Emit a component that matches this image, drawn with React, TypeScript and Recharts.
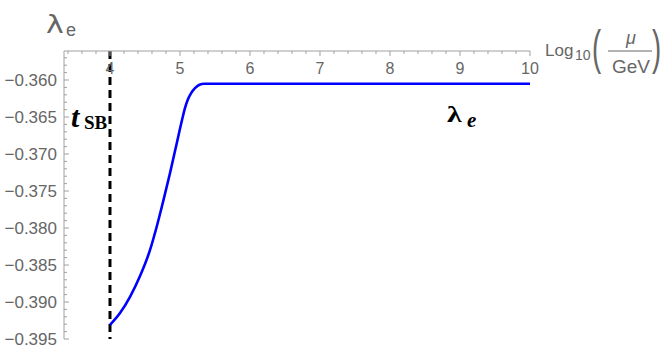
import React from 'react';
import { LineChart, Line, XAxis, YAxis, ReferenceLine } from 'recharts';

// log10(mu/GeV) values and lambda_e
const logMu = [4.0, 4.143, 4.286, 4.429, 4.571, 4.671, 4.757, 4.857, 4.957, 5.029, 5.071, 5.114, 5.157, 5.214, 5.286, 5.343, 10];
const lambdaE = [-0.3931, -0.3915, -0.3893, -0.3865, -0.383, -0.3797, -0.3765, -0.3726, -0.3684, -0.3654, -0.3638, -0.3626, -0.3618, -0.3611, -0.3606, -0.3605, -0.3605];

const xTicks = [3.4, 3.6, 3.8, 4, 4.2, 4.4, 4.6, 4.8, 5, 5.2, 5.4, 5.6, 5.8, 6, 6.2, 6.4, 6.6, 6.8, 7, 7.2, 7.4, 7.6, 7.8, 8, 8.2, 8.4, 8.6, 8.8, 9, 9.2, 9.4, 9.6, 9.8, 10];
const xMajorLabels = ['4', '5', '6', '7', '8', '9', '10'];
const yTicks = [
  -0.395, -0.394, -0.393, -0.392, -0.391, -0.39, -0.389, -0.388, -0.387, -0.386,
  -0.385, -0.384, -0.383, -0.382, -0.381, -0.38, -0.379, -0.378, -0.377, -0.376,
  -0.375, -0.374, -0.373, -0.372, -0.371, -0.37, -0.369, -0.368, -0.367, -0.366,
  -0.365, -0.364, -0.363, -0.362, -0.361, -0.36, -0.359, -0.358, -0.357,
];
const yMajorLabels = ['−0.395', '−0.390', '−0.385', '−0.380', '−0.375', '−0.370', '−0.365', '−0.360'];
const tSB = 4;

const data = logMu.map((x, i) => ({ x, y: lambdaE[i] }));

const GRAY_TEXT = '#666666';
const TICK = '#a0a0a0';
const SANS = 'Liberation Sans, Arial, sans-serif';
const SERIF = 'Liberation Serif, Times New Roman, serif';

const XTick = (props: any) => {
  const { x, y, payload } = props;
  const v = payload.value as number;
  const major = Math.abs(v - Math.round(v)) < 1e-6;
  const label = xMajorLabels.find((l) => Number(l) === Math.round(v));
  return (
    <g>
      <line x1={x} x2={x} y1={y} y2={y + (major ? 5 : 3)} stroke={TICK} strokeWidth={1} />
      {major && label && (
        <text x={x} y={y + 23} textAnchor="middle" fontSize={16} fill={GRAY_TEXT} fontFamily={SANS}>
          {label}
        </text>
      )}
    </g>
  );
};

const YTick = (props: any) => {
  const { x, y, payload } = props;
  const v = payload.value as number;
  const major = Math.abs(v * 200 - Math.round(v * 200)) < 1e-6;
  const label = yMajorLabels.find((l) => Math.abs(-Number(l.replace('−', '')) - v) < 1e-7);
  return (
    <g>
      <line x1={x} x2={x + (major ? 5 : 3)} y1={y} y2={y} stroke={TICK} strokeWidth={1} />
      {major && label && (
        <text x={x - 7} y={y + 6} textAnchor="end" fontSize={17} fill={GRAY_TEXT} fontFamily={SANS}>
          {label}
        </text>
      )}
    </g>
  );
};

const Annotations = () => (
  <g>
    {/* y axis title */}
    <text transform="translate(46,33) scale(1.25,1)" fontSize={24} fill={GRAY_TEXT} fontFamily="DejaVu Sans, sans-serif">
      λ
    </text>
    <text x={66} y={36} fontSize={18} fill={GRAY_TEXT} fontFamily={SANS}>
      e
    </text>
    {/* x axis title */}
    <text x={545} y={56} fontSize={17} fill={GRAY_TEXT} fontFamily={SANS}>
      Log
    </text>
    <text x={575} y={60} fontSize={14} fill={GRAY_TEXT} fontFamily={SANS}>
      10
    </text>
    <text transform="translate(592,64) scale(1.1,1.9)" fontSize={25} fill={GRAY_TEXT} fontFamily={SANS}>
      (
    </text>
    <text x={631} y={44} fontSize={18} fontStyle="italic" textAnchor="middle" fill={GRAY_TEXT} fontFamily={SANS}>
      μ
    </text>
    <line x1={608} x2={652} y1={51} y2={51} stroke={GRAY_TEXT} strokeWidth={1.2} />
    <text x={631} y={73} fontSize={19} textAnchor="middle" fill={GRAY_TEXT} fontFamily={SANS}>
      GeV
    </text>
    <text transform="translate(652,64) scale(1.1,1.9)" fontSize={25} fill={GRAY_TEXT} fontFamily={SANS}>
      )
    </text>
    {/* t_SB annotation */}
    <text x={71} y={127} fontSize={30} fontWeight="bold" fontStyle="italic" fill="#000" fontFamily={SERIF}>
      t
    </text>
    <text x={84} y={129} fontSize={19} fontWeight="bold" fill="#000" fontFamily={SERIF}>
      SB
    </text>
    {/* lambda_e annotation */}
    <text transform="translate(447,122) scale(1.3,1)" fontSize={23} fontWeight="bold" fill="#000" fontFamily={SERIF}>
      λ
    </text>
    <text x={467} y={127} fontSize={21} fontWeight="bold" fontStyle="italic" fill="#000" fontFamily={SERIF}>
      e
    </text>
  </g>
);

export default function App() {
  return (
    <div style={{ position: 'absolute', left: 0, top: 0, width: 664, height: 353, background: '#fff' }}>
      <LineChart width={664} height={353} data={data} margin={{ top: 0, right: 134, left: 0, bottom: 14 }}>
        <XAxis
          dataKey="x"
          type="number"
          orientation="top"
          domain={[3.343, 10]}
          allowDataOverflow
          ticks={xTicks}
          interval={0}
          height={51}
          tickSize={0}
          tickMargin={0}
          tickLine={false}
          tick={<XTick />}
          stroke={TICK}
          label={() => <Annotations />}
        />
        <YAxis
          type="number"
          domain={[-0.395, -0.35608]}
          allowDataOverflow
          ticks={yTicks}
          interval={0}
          width={64}
          tickSize={0}
          tickMargin={0}
          tickLine={false}
          tick={<YTick />}
          stroke={TICK}
        />
        <ReferenceLine x={tSB} stroke="#000" strokeWidth={3} strokeDasharray="8 5" />
        <Line
          type="monotone"
          dataKey="y"
          stroke="#0000ff"
          strokeWidth={2.6}
          dot={false}
          isAnimationActive={false}
        />
      </LineChart>
    </div>
  );
}
